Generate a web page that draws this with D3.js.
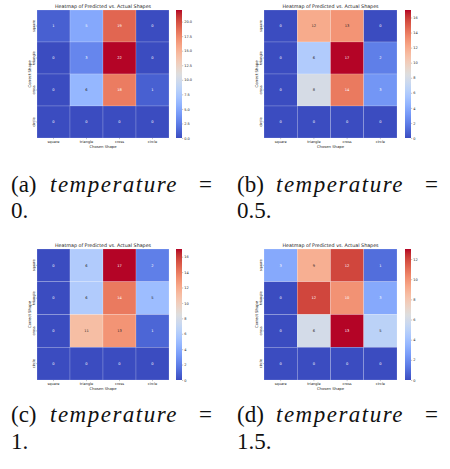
<!DOCTYPE html>
<html>
<head>
<meta charset="utf-8">
<script src="https://cdn.jsdelivr.net/npm/d3@7"></script>
</head>
<body style="margin:0;background:#fff;position:relative;width:450px;height:469px;overflow:hidden">
<svg id="fig" width="450" height="469" style="display:block;position:absolute;left:0;top:0"></svg>
<script>
// chart data
var shapes = ["square", "triangle", "cross", "circle"]
var tempA = [[1, 5, 19, 0], [0, 3, 22, 0], [0, 6, 18, 1], [0, 0, 0, 0]]
var tempB = [[0, 12, 13, 0], [0, 6, 17, 2], [0, 8, 14, 3], [0, 0, 0, 0]]
var tempC = [[0, 6, 17, 2], [0, 6, 14, 5], [0, 11, 13, 1], [0, 0, 0, 0]]
var tempD = [[3, 9, 12, 1], [0, 12, 10, 3], [0, 6, 13, 5], [0, 0, 0, 0]]
var ticksA = [0, 2.5, 5, 7.5, 10, 12.5, 15, 17.5, 20]
var ticksB = [0, 2, 4, 6, 8, 10, 12, 14, 16]
var ticksC = [0, 2, 4, 6, 8, 10, 12, 14, 16]
var ticksD = [0, 2, 4, 6, 8, 10, 12]
var captionLetters = ["(a)", "(b)", "(c)", "(d)"]
var captionValues = ["0.", "0.5.", "1.", "1.5."]

// matplotlib coolwarm (Moreland) samples
var cw = [[59,76,192],[68,90,204],[77,104,215],[87,117,225],[98,130,234],[108,142,241],[119,154,247],
  [130,165,251],[141,176,254],[152,185,255],[163,194,255],[174,201,253],[184,208,249],[194,213,244],
  [204,217,238],[213,219,230],[221,221,221],[229,216,209],[236,211,197],[241,204,185],[245,196,173],
  [247,187,160],[247,177,148],[247,166,135],[244,154,123],[241,141,111],[236,127,99],[229,112,88],
  [222,96,77],[213,80,66],[203,62,56],[192,40,47],[180,4,38]]
var coolwarm = d3.scaleLinear()
    .domain(cw.map((c, i) => i / (cw.length - 1)))
    .range(cw.map(c => d3.rgb(c[0], c[1], c[2]).toString()))
    .interpolate(d3.interpolateRgb)

function lum(col) {
    var c = d3.rgb(col)
    var f = v => { v /= 255; return v <= 0.03928 ? v / 12.92 : Math.pow((v + 0.055) / 1.055, 2.4) }
    return 0.2126 * f(c.r) + 0.7152 * f(c.g) + 0.0722 * f(c.b)
}

var svg = d3.select('#fig')
var defs = svg.append('defs')
var grad = defs.append('linearGradient').attr('id', 'cwgrad')
    .attr('x1', 0).attr('y1', 1).attr('x2', 0).attr('y2', 0)
d3.range(0, 1.0001, 0.02).forEach(t => {
    grad.append('stop').attr('offset', t).attr('stop-color', coolwarm(t))
})

var font = 'DejaVu Sans, sans-serif'

function drawHeatmap(m, ticks, box) {
    var g = svg.append('g')
    var vmax = d3.max(m, r => d3.max(r))
    var color = v => coolwarm(v / vmax)
    var x = d3.scaleBand().domain(shapes).range([box.x, box.x + box.w])
    var y = d3.scaleBand().domain(shapes).range([box.y, box.y + box.h])

    var cells = []
    m.forEach((row, i) => row.forEach((v, j) => cells.push({ r: shapes[i], c: shapes[j], v: v })))

    g.selectAll('rect.cell').data(cells).enter().append('rect')
        .attr('class', 'cell')
        .attr('x', d => x(d.c)).attr('y', d => y(d.r))
        .attr('width', x.bandwidth()).attr('height', y.bandwidth())
        .attr('fill', d => color(d.v))
        .attr('stroke', 'rgba(255,255,255,0.35)').attr('stroke-width', 0.5)

    g.selectAll('text.ann').data(cells).enter().append('text')
        .attr('class', 'ann')
        .attr('x', d => x(d.c) + x.bandwidth() / 2)
        .attr('y', d => y(d.r) + y.bandwidth() / 2)
        .attr('dy', '0.35em')
        .attr('text-anchor', 'middle')
        .attr('font-family', font).attr('font-size', 3.6)
        .attr('fill', d => lum(color(d.v)) > 0.408 ? '#262626' : '#fff')
        .text(d => d.v)

    // x ticks
    g.selectAll('text.xt').data(shapes).enter().append('text')
        .attr('x', d => x(d) + x.bandwidth() / 2).attr('y', box.y + box.h + 5)
        .attr('text-anchor', 'middle')
        .attr('font-family', font).attr('font-size', 3.5).attr('fill', '#222')
        .text(d => d)
    g.selectAll('line.xt').data(shapes).enter().append('line')
        .attr('x1', d => x(d) + x.bandwidth() / 2).attr('x2', d => x(d) + x.bandwidth() / 2)
        .attr('y1', box.y + box.h).attr('y2', box.y + box.h + 1.2)
        .attr('stroke', '#444').attr('stroke-width', 0.3)
    g.append('text')
        .attr('x', box.x + box.w / 2).attr('y', box.y + box.h + 9.5)
        .attr('text-anchor', 'middle')
        .attr('font-family', font).attr('font-size', 3.8).attr('fill', '#222')
        .text('Chosen Shape')

    // y ticks
    g.selectAll('text.yt').data(shapes).enter().append('text')
        .attr('transform', d => 'translate(' + (box.x - 2.5) + ',' + (y(d) + y.bandwidth() / 2) + ') rotate(-90)')
        .attr('text-anchor', 'middle')
        .attr('font-family', font).attr('font-size', 3.5).attr('fill', '#222')
        .text(d => d)
    g.selectAll('line.yt').data(shapes).enter().append('line')
        .attr('x1', box.x - 1.2).attr('x2', box.x)
        .attr('y1', d => y(d) + y.bandwidth() / 2).attr('y2', d => y(d) + y.bandwidth() / 2)
        .attr('stroke', '#444').attr('stroke-width', 0.3)
    g.append('text')
        .attr('transform', 'translate(' + (box.x - 6.5) + ',' + (box.y + box.h / 2) + ') rotate(-90)')
        .attr('text-anchor', 'middle')
        .attr('font-family', font).attr('font-size', 3.8).attr('fill', '#222')
        .text('Correct Shape')

    // title
    g.append('text')
        .attr('x', box.x + box.w / 2).attr('y', box.y - 2.2)
        .attr('text-anchor', 'middle')
        .attr('font-family', font).attr('font-size', 4.8).attr('fill', '#222')
        .text('Heatmap of Predicted vs. Actual Shapes')

    // colorbar
    var cx = box.x + box.w + 7 + (box.cbx || 0)
    var cs = d3.scaleLinear().domain([0, vmax]).range([box.y + box.h, box.y])
    g.append('rect')
        .attr('x', cx).attr('y', box.y).attr('width', 6).attr('height', box.h)
        .attr('fill', 'url(#cwgrad)')
    var ax = g.append('g')
        .attr('transform', 'translate(' + (cx + 6) + ',0)')
        .call(d3.axisRight(cs).tickValues(ticks).tickSize(1.2).tickPadding(1)
            .tickFormat(ticks.some(t => t % 1) ? d3.format('.1f') : d3.format('d')))
    ax.select('.domain').remove()
    ax.selectAll('line').attr('stroke', '#444').attr('stroke-width', 0.3)
    ax.selectAll('text').attr('font-family', font).attr('font-size', 3.5).attr('fill', '#222')
}

drawHeatmap(tempA, ticksA, { x: 37, y: 10, w: 132, h: 128 })
drawHeatmap(tempB, ticksB, { x: 264, y: 10, w: 133, h: 128, cbx: 1 })
drawHeatmap(tempC, ticksC, { x: 37, y: 249, w: 132, h: 131 })
drawHeatmap(tempD, ticksD, { x: 264, y: 249, w: 133, h: 131, cbx: 1 })

// captions, html text (baseline sits ~19px below the div top)
var capPos = [[11, 192, 218], [237, 192, 218], [11, 422, 449], [237, 422, 449]]
var body = d3.select('body')
captionLetters.forEach((l, i) => {
    var p = capPos[i]
    var put = (txt, x, base) => body.append('div')
        .style('position', 'absolute').style('left', x + 'px').style('top', (base - 19) + 'px')
        .style('font-family', "'Liberation Serif'").style('font-size', '23px')
        .style('line-height', '23px').style('color', '#111').style('white-space', 'nowrap')
        .text(txt)
    put(l, p[0], p[1])
    put('temperature', p[0] + 39, p[1]).style('font-style', 'italic').style('letter-spacing', '1.5px')
    put('=', p[0] + 188, p[1])
    put(captionValues[i], p[0], p[2])
})
</script>
</body>
</html>
